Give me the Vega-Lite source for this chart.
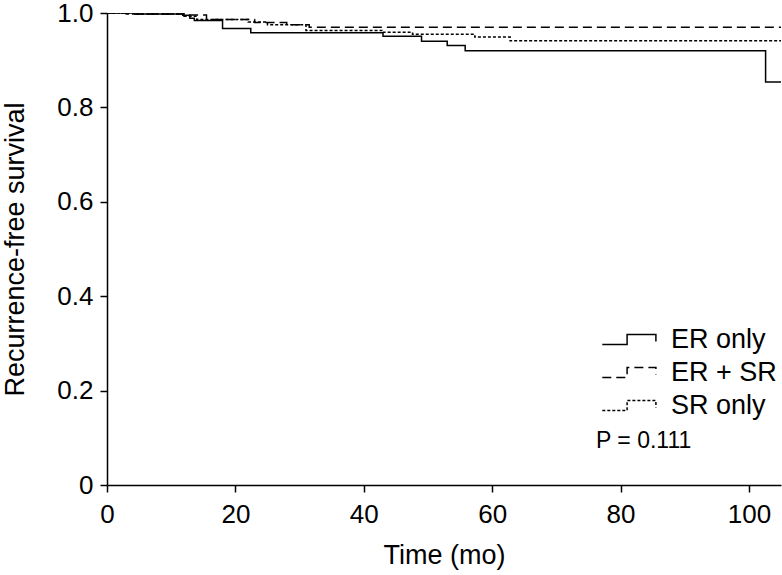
{
  "$schema": "https://vega.github.io/schema/vega-lite/v6.json",
  "width": 674,
  "height": 472,
  "autosize": {"type": "none"},
  "padding": {"left": 107, "top": 13, "right": 1, "bottom": 90},
  "background": "white",
  "config": {
    "view": {"stroke": null},
    "font": "Liberation Sans",
    "axis": {
      "domainColor": "black",
      "domainWidth": 1.5,
      "tickColor": "black",
      "tickWidth": 1.5,
      "tickSize": 7,
      "labelColor": "black",
      "labelFontSize": 26,
      "labelFont": "Liberation Sans",
      "titleColor": "black",
      "titleFontSize": 27,
      "titleFontWeight": "normal",
      "titleFont": "Liberation Sans",
      "grid": false,
      "labelPadding": 7
    }
  },
  "data": {
    "values": [
      {"group": "ER only", "time": 0, "surv": 1.0},
      {"group": "ER only", "time": 4.0, "surv": 0.998},
      {"group": "ER only", "time": 11.8, "surv": 0.995},
      {"group": "ER only", "time": 12.9, "surv": 0.989},
      {"group": "ER only", "time": 13.6, "surv": 0.984},
      {"group": "ER only", "time": 18.0, "surv": 0.967},
      {"group": "ER only", "time": 22.4, "surv": 0.958},
      {"group": "ER only", "time": 43.0, "surv": 0.951},
      {"group": "ER only", "time": 49.0, "surv": 0.940},
      {"group": "ER only", "time": 53.0, "surv": 0.931},
      {"group": "ER only", "time": 55.8, "surv": 0.920},
      {"group": "ER only", "time": 102.6, "surv": 0.854},
      {"group": "ER only", "time": 105, "surv": 0.854},
      {"group": "ER + SR", "time": 0, "surv": 1.0},
      {"group": "ER + SR", "time": 3.0, "surv": 0.998},
      {"group": "ER + SR", "time": 12.0, "surv": 0.996},
      {"group": "ER + SR", "time": 15.5, "surv": 0.986},
      {"group": "ER + SR", "time": 23.0, "surv": 0.980},
      {"group": "ER + SR", "time": 28.0, "surv": 0.975},
      {"group": "ER + SR", "time": 31.5, "surv": 0.970},
      {"group": "ER + SR", "time": 105, "surv": 0.970},
      {"group": "SR only", "time": 0, "surv": 1.0},
      {"group": "SR only", "time": 4.5, "surv": 0.998},
      {"group": "SR only", "time": 12.0, "surv": 0.993},
      {"group": "SR only", "time": 14.0, "surv": 0.986},
      {"group": "SR only", "time": 22.0, "surv": 0.981},
      {"group": "SR only", "time": 25.0, "surv": 0.975},
      {"group": "SR only", "time": 31.0, "surv": 0.963},
      {"group": "SR only", "time": 43.0, "surv": 0.959},
      {"group": "SR only", "time": 47.6, "surv": 0.955},
      {"group": "SR only", "time": 57.3, "surv": 0.949},
      {"group": "SR only", "time": 62.8, "surv": 0.941},
      {"group": "SR only", "time": 105, "surv": 0.941}
    ]
  },
  "mark": {"type": "line", "interpolate": "step-after", "color": "black", "strokeWidth": 1.5, "clip": true},
  "encoding": {
    "x": {
      "field": "time", "type": "quantitative",
      "scale": {"domain": [0, 105], "nice": false, "zero": true},
      "axis": {"values": [0, 20, 40, 60, 80, 100], "title": "Time (mo)", "titlePadding": 15, "labelFlush": false, "labelPadding": 9}
    },
    "y": {
      "field": "surv", "type": "quantitative",
      "scale": {"domain": [0, 1], "nice": false},
      "axis": {
        "values": [0, 0.2, 0.4, 0.6, 0.8, 1.0],
        "labelExpr": "datum.value === 0 ? '0' : format(datum.value, '.1f')",
        "title": "Recurrence-free survival",
        "titlePadding": 27,
        "labelFlush": false
      }
    },
    "detail": {"field": "group"},
    "strokeDash": {
      "field": "group", "type": "nominal",
      "scale": {"domain": ["ER only", "ER + SR", "SR only"], "range": [[1, 0], [9, 5], [3, 2]]},
      "legend": {
        "orient": "none",
        "legendX": 489,
        "legendY": 313,
        "padding": 0,
        "title": "P = 0.111",
        "titleOrient": "bottom",
        "titleAnchor": "start",
        "titleAlign": "left",
        "titleFontSize": 23,
        "titleFontWeight": "normal",
        "titleColor": "black",
        "titleFont": "Liberation Sans",
        "titlePadding": 11,
        "symbolType": "M-3.4,0.62 H-0.3 V-0.62 H3.3 V0.25",
        "symbolSize": 256,
        "symbolOffset": 20,
        "symbolStrokeColor": "black",
        "symbolFillColor": "transparent",
        "symbolStrokeWidth": 1.5,
        "labelOffset": 28,
        "labelFontSize": 27,
        "labelColor": "black",
        "labelFont": "Liberation Sans",
        "rowPadding": 5,
        "labelLimit": 200
      }
    }
  }
}
